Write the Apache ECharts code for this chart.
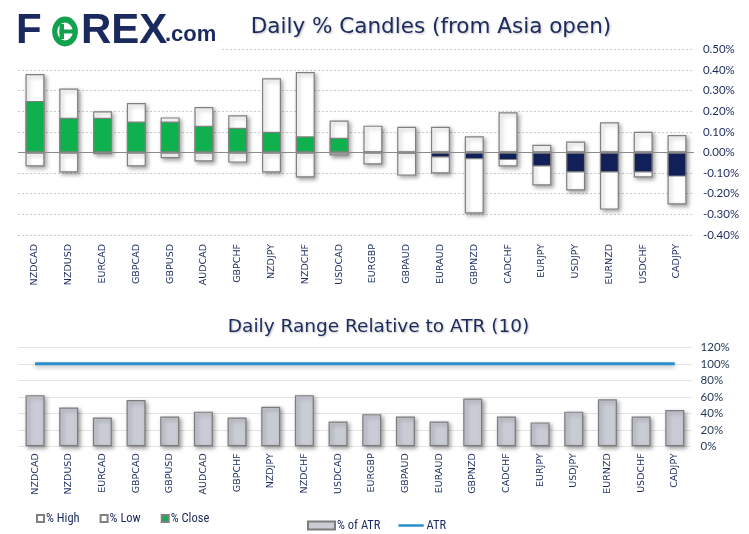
<!DOCTYPE html>
<html><head><meta charset="utf-8">
<script src="https://cdn.jsdelivr.net/npm/echarts@6/dist/echarts.min.js"></script>
<style>html,body{margin:0;padding:0;background:#fff}#c{width:749px;height:534px}</style>
</head><body><div id="c"></div>
<script>
const categories = ['NZDCAD','NZDUSD','EURCAD','GBPCAD','GBPUSD','AUDCAD','GBPCHF','NZDJPY','NZDCHF','USDCAD','EURGBP','GBPAUD','EURAUD','GBPNZD','CADCHF','EURJPY','USDJPY','EURNZD','USDCHF','CADJPY'];
const highs  = [0.38,0.31,0.20,0.24,0.17,0.22,0.18,0.36,0.39,0.155,0.13,0.125,0.125,0.078,0.195,0.037,0.053,0.146,0.10,0.085];
const lows   = [-0.068,-0.097,-0.008,-0.068,-0.028,-0.044,-0.049,-0.097,-0.121,-0.015,-0.058,-0.112,-0.102,-0.296,-0.068,-0.16,-0.184,-0.277,-0.121,-0.252];
const closes = [0.25,0.168,0.168,0.15,0.15,0.129,0.12,0.10,0.078,0.071,0.0,-0.005,-0.024,-0.033,-0.037,-0.068,-0.097,-0.097,-0.097,-0.117];
const atrPct = [62,47,35,56,36,42,35,48,62,30,39,36,30,58,36,29,42,57,36,44];
const atrLine = [100,100,100,100,100,100,100,100,100,100,100,100,100,100,100,100,100,100,100,100];
const topTicks = ['-0.40%','-0.30%','-0.20%','-0.10%','0.00%','0.10%','0.20%','0.30%','0.40%','0.50%'];

const NAVY = '#1b2a5e';
const GREEN = '#0fb14f';
const DARKBLUE = '#12205a';
const BORDER = '#808080';
const shadow = {shadowBlur:4, shadowColor:'rgba(0,0,0,0.35)', shadowOffsetX:2, shadowOffsetY:2};
const narrow = "'Liberation Sans Narrow', 'Roboto Condensed', Roboto, sans-serif";

const chart = echarts.init(document.getElementById('c'), null, {renderer:'canvas'});
chart.setOption({
  animation:false,
  backgroundColor:'#fff',
  grid:[
    {left:18.1, right:55.1, top:49.3, bottom:299, containLabel:false},
    {left:18.2, right:57.4, top:347.3, bottom:87.7, containLabel:false}
  ],
  xAxis:[
    {type:'category', gridIndex:0, data:categories, axisLine:{show:false}, axisTick:{show:false},
     axisLabel:{rotate:90, margin:9, color:NAVY, fontFamily:'DejaVu Sans', fontSize:9.5}},
    {type:'category', gridIndex:1, data:categories, axisLine:{show:false}, axisTick:{show:false},
     axisLabel:{rotate:90, margin:7, color:NAVY, fontFamily:'DejaVu Sans', fontSize:9.5}}
  ],
  yAxis:[
    {type:'value', gridIndex:0, position:'right', min:-0.4, max:0.5, interval:0.1,
     axisLine:{show:false}, axisTick:{show:false},
     splitLine:{lineStyle:{type:[2,2], color:'#c8c8c8', width:1}},
     axisLabel:{margin:9, color:NAVY, fontFamily:'Lato', fontSize:11.5,
       formatter:(v)=>topTicks[Math.round((v+0.4)*10)]}},
    {type:'value', gridIndex:1, position:'right', min:0, max:120, interval:20,
     axisLine:{show:false}, axisTick:{show:false},
     splitLine:{lineStyle:{type:'solid', color:'#e4e4e4', width:1}},
     axisLabel:{margin:9, color:'#1f3556', fontFamily:'Lato', fontSize:11.5, formatter:'{value}%'}}
  ],
  legend:[
    {data:['% High','% Low','% Close'], left:31, top:507, itemWidth:7, itemHeight:7, itemGap:20,
     icon:'rect', textStyle:{color:NAVY, fontFamily:narrow, fontSize:12.5, padding:[0,0,0,-3]}},
    {data:[{name:'% of ATR', icon:'rect'},
           {name:'ATR', icon:'path://M0,0L1,0M0,3.2L30,3.2L30,6.3L0,6.3ZM0,9.5L1,9.5', itemStyle:{color:'#2a90cc', borderWidth:0}}],
     left:302, top:514, itemWidth:27, itemHeight:8, itemGap:18,
     textStyle:{color:NAVY, fontFamily:narrow, fontSize:12.5, padding:[0,0,0,-3]}}
  ],
  graphic:[
    {type:'rect', z:100, shape:{x:0,y:0,width:221,height:54}, style:{fill:'#fff'}},
    {type:'text', z:101, style:{x:16, y:31.5, text:'F', fill:NAVY, font:'900 42px "Liberation Sans", Arial', verticalAlign:'middle'}},
    {type:'ring', z:101, shape:{cx:65, cy:31.5, r:15, r0:9}, scaleX:0.86, originX:65, originY:31.5, style:{fill:'#12a14d'}},
    {type:'rect', z:101, shape:{x:59.5, y:24, width:4.5, height:15}, style:{fill:'#12a14d'}},
    {type:'rect', z:101, shape:{x:59.5, y:29.5, width:17.5, height:4}, style:{fill:'#12a14d'}},
    {type:'text', z:101, style:{x:81, y:31.5, text:'REX', fill:NAVY, font:'900 42px "Liberation Sans", Arial', verticalAlign:'middle'}},
    {type:'text', z:101, style:{x:165, y:35, text:'.com', fill:NAVY, font:'bold 22px "Liberation Sans", Arial', verticalAlign:'middle'}},
    {type:'text', z:101, style:{x:431, y:27, text:'Daily % Candles (from Asia open)', fill:'#1c2b5e', font:'21.5px "DejaVu Sans"', align:'center', verticalAlign:'middle', textShadowColor:'rgba(0,0,0,0.25)', textShadowBlur:2, textShadowOffsetX:1, textShadowOffsetY:1}},
    {type:'text', z:101, style:{x:378.5, y:327, text:'Daily Range Relative to ATR (10)', fill:'#1c2b5e', font:'18.5px "DejaVu Sans"', align:'center', verticalAlign:'middle', textShadowColor:'rgba(0,0,0,0.25)', textShadowBlur:2, textShadowOffsetX:1, textShadowOffsetY:1}}
  ],
  series:[
    {name:'% High', type:'bar', xAxisIndex:0, yAxisIndex:0, data:highs, barWidth:19, barGap:'-100%',
     itemStyle:Object.assign({color:'#fff', borderColor:BORDER, borderWidth:1.2}, shadow),
     markLine:{silent:true, symbol:'none', label:{show:false}, lineStyle:{color:'#8a8a8a', type:'solid', width:1}, data:[{yAxis:0}]}},
    {name:'% Low', type:'bar', xAxisIndex:0, yAxisIndex:0, data:lows, barWidth:19, barGap:'-100%',
     itemStyle:Object.assign({color:'#fff', borderColor:BORDER, borderWidth:1.2}, shadow)},
    {name:'% Close', type:'bar', xAxisIndex:0, yAxisIndex:0, barWidth:19, barGap:'-100%',
     data:closes.map(v=>({value:v, itemStyle:{color: v>=0 ? GREEN : DARKBLUE}})),
     itemStyle:{color:GREEN, borderColor:BORDER, borderWidth:1.2}},
    {name:'% of ATR', type:'bar', xAxisIndex:1, yAxisIndex:1, data:atrPct, barWidth:19,
     itemStyle:Object.assign({color:'#c9cbd5', borderColor:'#7c7c7c', borderWidth:1.2}, shadow)},
    {name:'ATR', type:'line', xAxisIndex:1, yAxisIndex:1, data:atrLine, symbol:'none', showSymbol:false,
     lineStyle:{color:'#2a90cc', width:3, shadowBlur:4, shadowColor:'rgba(0,0,0,0.3)', shadowOffsetY:2}, itemStyle:{color:'#2a90cc'}}
  ]
});
</script></body></html>
